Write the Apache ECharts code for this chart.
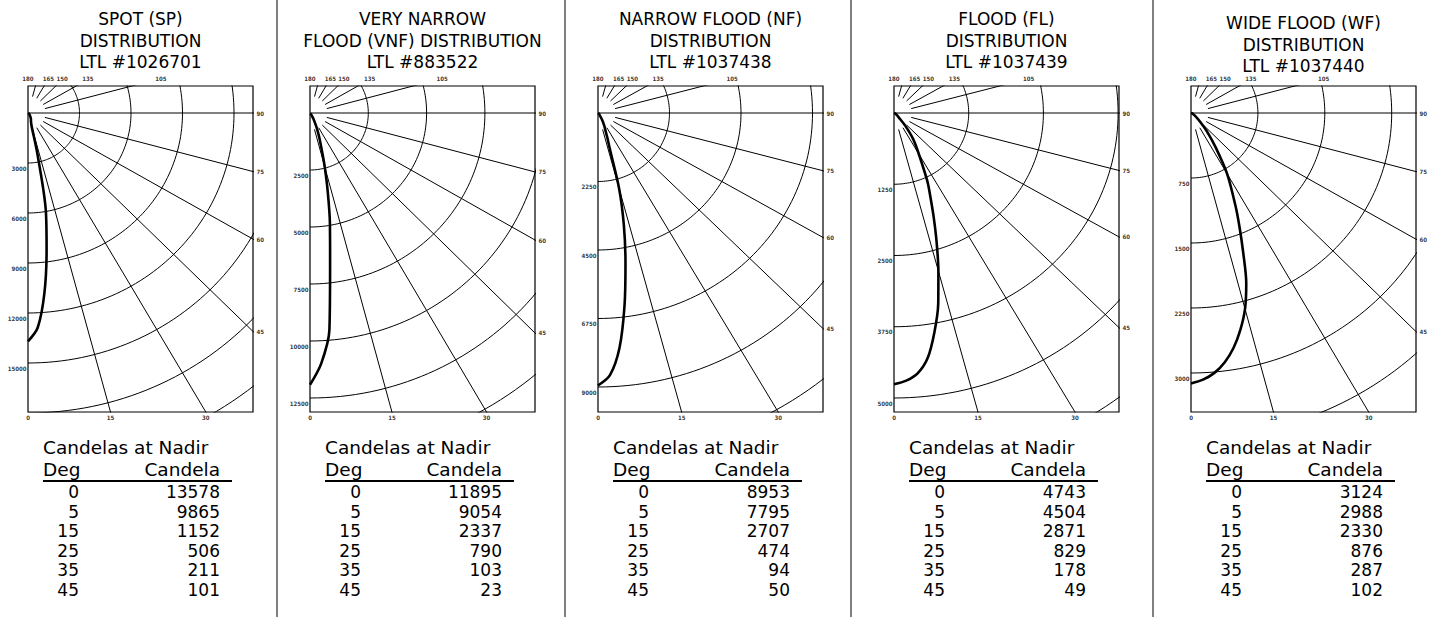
<!DOCTYPE html>
<html><head><meta charset="utf-8">
<script src="https://cdn.jsdelivr.net/npm/echarts@6/dist/echarts.min.js"></script>
<style>html,body{margin:0;padding:0;background:#fff}#c{width:1429px;height:617px}</style>
</head><body><div id="c"></div><script>
// ---------- DATA ----------
const titleSP  = ['SPOT (SP)', 'DISTRIBUTION', 'LTL #1026701'];
const titleVNF = ['VERY NARROW', 'FLOOD (VNF) DISTRIBUTION', 'LTL #883522'];
const titleNF  = ['NARROW FLOOD (NF)', 'DISTRIBUTION', 'LTL #1037438'];
const titleFL  = ['FLOOD (FL)', 'DISTRIBUTION', 'LTL #1037439'];
const titleWF  = ['WIDE FLOOD (WF)', 'DISTRIBUTION', 'LTL #1037440'];

// candela ring step of each polar plot and number of labelled rings
const ringSteps  = [3000, 2500, 2250, 1250, 750];
const ringLabelCounts = [5, 5, 4, 4, 4];

// angle tick labels round the plot
const rightTickAngles  = [90, 75, 60, 45];
const bottomTickAngles = [0, 15, 30];
const topTickAngles    = [180, 165, 150, 135, 105];
const gridAnglesLower  = [15, 30, 45, 60, 75];
const gridAnglesUpper  = [105, 120, 135, 150, 165];

// candela curve (deg from nadir)
const curveAngles = [0, 2.5, 5, 7.5, 10, 12.5, 15, 17.5, 20, 22.5, 25, 30, 35, 40, 45, 55, 65, 75, 90];
const curveSP  = [13700, 12900, 10900, 8300, 6000, 2600, 800, 600, 500, 450, 400, 300, 210, 150, 100, 60, 40, 25, 10];
const curveVNF = [11920, 11000, 9550, 6600, 4920, 3500, 2430, 1650, 1200, 850, 600, 300, 120, 60, 25, 15, 10, 5, 0];
const curveNF  = [8950, 8620, 7750, 6390, 4980, 3750, 2560, 1250, 850, 600, 470, 250, 100, 70, 50, 30, 20, 10, 0];
const curveFL  = [4760, 4700, 4580, 4330, 3900, 3420, 2870, 2370, 1940, 1590, 1320, 830, 560, 300, 120, 45, 20, 10, 0];
const curveWF  = [3120, 3080, 3010, 2900, 2750, 2560, 2340, 2060, 1710, 1420, 1180, 810, 480, 280, 150, 50, 20, 10, 0];

// "Candelas at Nadir" tables
const tableDeg = [0, 5, 15, 25, 35, 45];
const tableSP  = [13578, 9865, 1152, 506, 211, 101];
const tableVNF = [11895, 9054, 2337, 790, 103, 23];
const tableNF  = [8953, 7795, 2707, 474, 94, 50];
const tableFL  = [4743, 4504, 2871, 829, 178, 49];
const tableWF  = [3124, 2988, 2330, 876, 287, 102];

const titles = [titleSP, titleVNF, titleNF, titleFL, titleWF];
const curves = [curveSP, curveVNF, curveNF, curveFL, curveWF];
const tables = [tableSP, tableVNF, tableNF, tableFL, tableWF];

// ---------- LAYOUT ----------
const BOX_LEFT = [28, 310, 598, 894, 1191];
const BOX_W = 225, BOX_TOP = 86, BOX_H = 326, CENTER_DY = 27;
const RING_PX_X = [51.5, 58.3, 71.5, 74.7, 66.9];
const RING_PX_Y = [50, 57, 68.5, 71.25, 65];
const LINE_START_PX = 17;
const SEPARATORS = [277, 565, 851, 1153];
const TITLE_Y = [19, 19, 19, 19, 23];
const TOP_LABEL_OFFSETS = [0, 13, 18, 32, 29];
const FONT = '"DejaVu Sans", sans-serif';

const rad = d => d * Math.PI / 180;
const tickLabelStyle = {show: true, color: '#000', fontSize: 6, fontWeight: 'bold',
  fontFamily: '"DejaVu Sans Condensed", "DejaVu Sans", sans-serif'};

const chart = echarts.init(document.getElementById('c'), null, {renderer: 'svg', width: 1429, height: 617});
const grids = [], xAxes = [], yAxes = [], series = [], graphics = [];

titles.forEach((tl, i) => {
  const step = ringSteps[i];
  const xMax = BOX_W / RING_PX_X[i] * step;
  const yMax = CENTER_DY / RING_PX_Y[i] * step;
  const yMin = -(BOX_H - CENTER_DY) / RING_PX_Y[i] * step;
  grids.push({left: BOX_LEFT[i], top: BOX_TOP, width: BOX_W, height: BOX_H, show: true,
    borderColor: '#000', borderWidth: 1.2, backgroundColor: 'transparent'});
  xAxes.push({type: 'value', gridIndex: i, min: 0, max: xMax, show: false});
  yAxes.push({type: 'value', gridIndex: i, min: yMin, max: yMax, show: false});
  const base = {xAxisIndex: i, yAxisIndex: i, silent: true, animation: false};
  const gl = {color: '#000', width: 1};
  // rings
  const diag = Math.hypot(xMax, yMin);
  for (let k = 1; k * step <= diag + step; k++) {
    const R = k * step, pts = [];
    for (let a = 0; a <= 180.001; a += 1.5) pts.push([R * Math.sin(rad(a)), -R * Math.cos(rad(a))]);
    series.push(Object.assign({type: 'line', data: pts, showSymbol: false, symbol: 'none', lineStyle: gl, clip: true, z: 2}, base));
  }
  // radial lines
  const r0 = LINE_START_PX / RING_PX_Y[i] * step, far = diag * 3;
  gridAnglesLower.concat(gridAnglesUpper).forEach(a => {
    series.push(Object.assign({type: 'line', symbol: 'none', lineStyle: gl, clip: true, z: 2,
      data: [[r0 * Math.sin(rad(a)), -r0 * Math.cos(rad(a))], [far * Math.sin(rad(a)), -far * Math.cos(rad(a))]]}, base));
  });
  series.push(Object.assign({type: 'line', symbol: 'none', lineStyle: gl, clip: true, z: 2,
    data: [[0, 0], [far, 0]]}, base));
  // candela curve
  series.push(Object.assign({type: 'line', symbol: 'none', smooth: 0.3, clip: true, z: 5,
    lineStyle: {color: '#000', width: 2.6},
    data: curves[i].map((v, j) => [v * Math.sin(rad(curveAngles[j])), -v * Math.cos(rad(curveAngles[j]))])}, base));
  // tick labels
  const lab = [];
  for (let k = 1; k <= ringLabelCounts[i]; k++)
    lab.push({value: [0, -k * step], label: Object.assign({position: 'left', distance: 1, offset: [0, 5], formatter: String(k * step)}, tickLabelStyle)});
  rightTickAngles.forEach(a => lab.push({value: [xMax, -xMax * Math.cos(rad(a)) / Math.sin(rad(a))],
    label: Object.assign({position: 'right', distance: 3, formatter: String(a)}, tickLabelStyle)}));
  bottomTickAngles.forEach(a => lab.push({value: [-yMin * Math.tan(rad(a)), yMin],
    label: Object.assign({position: 'bottom', distance: 2, formatter: String(a)}, tickLabelStyle)}));
  topTickAngles.forEach((a, j) => lab.push({value: [yMax * Math.sin(rad(a)) / (-Math.cos(rad(a))), yMax],
    label: Object.assign({position: 'top', distance: 4, offset: [TOP_LABEL_OFFSETS[j], 0], formatter: String(a)}, tickLabelStyle)}));
  series.push(Object.assign({type: 'scatter', data: lab, symbolSize: 1, itemStyle: {color: 'rgba(0,0,0,0)'}, clip: false, z: 6}, base));

  // title
  const cx = BOX_LEFT[i] + BOX_W / 2;
  tl.forEach((t, j) => graphics.push({type: 'text', silent: true,
    style: {text: t, x: cx, y: TITLE_Y[i] + j * 21.5, fill: '#000', font: '17px ' + FONT, textAlign: 'center', textVerticalAlign: 'middle'}}));
  // table
  const tx = BOX_LEFT[i] + 15;
  const txt = (t, x, y, align, size) => graphics.push({type: 'text', silent: true,
    style: {text: t, x: x, y: y, fill: '#000', font: size + 'px ' + FONT, textAlign: align, textVerticalAlign: 'middle'}});
  txt('Candelas at Nadir', tx, 447, 'left', 18.5);
  txt('Deg', tx, 469, 'left', 18.5);
  txt('Candela', tx + 177, 469, 'right', 18.5);
  graphics.push({type: 'line', silent: true, shape: {x1: tx, y1: 481, x2: tx + 189, y2: 481}, style: {stroke: '#000', lineWidth: 2}});
  tableDeg.forEach((d, j) => {
    txt(String(d), tx + 36, 492 + j * 19.5, 'right', 17);
    txt(String(tables[i][j]), tx + 177, 492 + j * 19.5, 'right', 17);
  });
});
SEPARATORS.forEach(x => graphics.push({type: 'line', silent: true, shape: {x1: x, y1: 0, x2: x, y2: 617}, style: {stroke: '#000', lineWidth: 1}}));

chart.setOption({animation: false, backgroundColor: '#fff', grid: grids, xAxis: xAxes, yAxis: yAxes, series: series, graphic: graphics});
</script></body></html>
